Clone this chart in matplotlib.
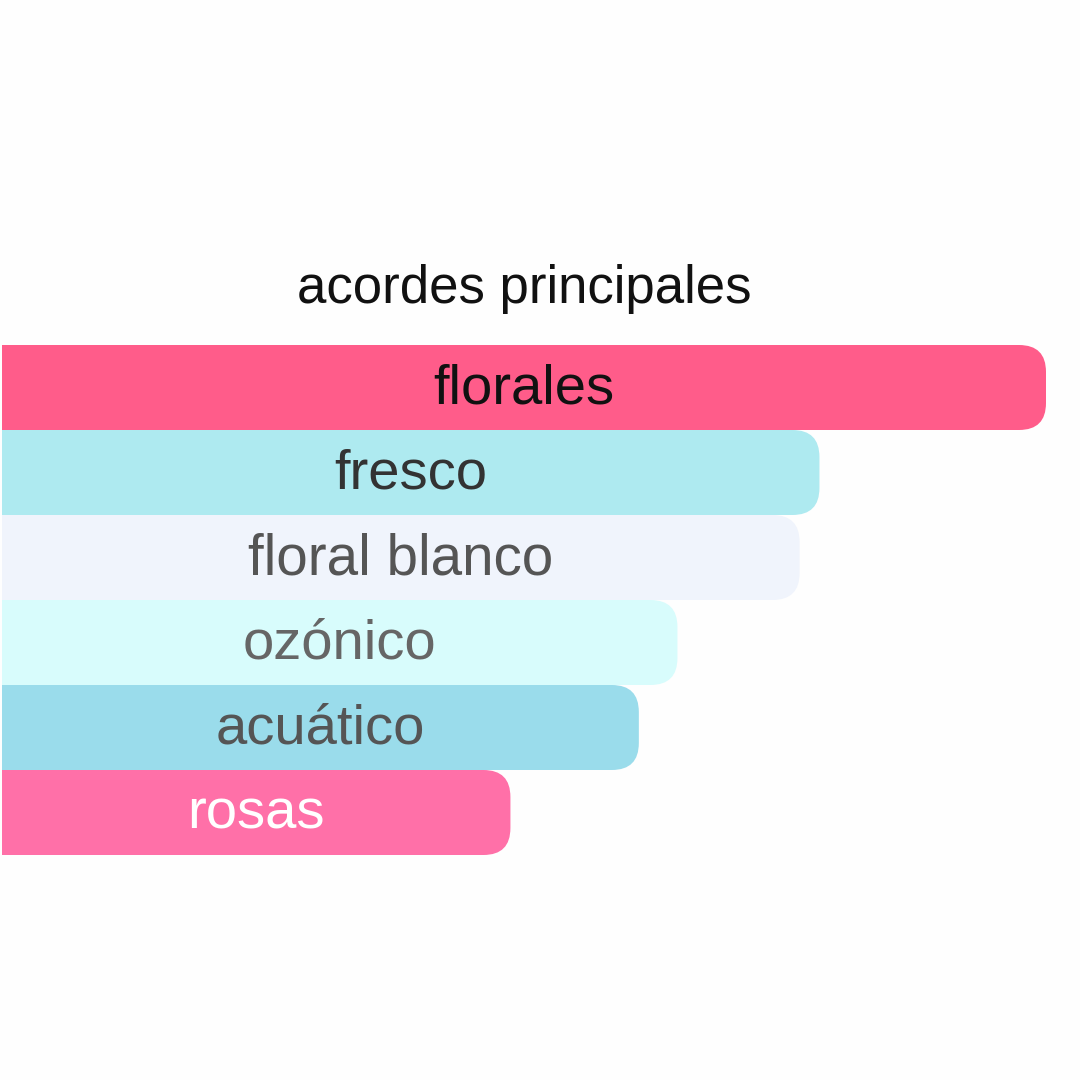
import matplotlib
matplotlib.use("Agg")
import matplotlib.pyplot as plt
from matplotlib.patches import FancyBboxPatch, Rectangle

title = "acordes principales"
categories = ["florales", "fresco", "floral blanco", "ozónico", "acuático", "rosas"]
values = [100, 78.3, 76.4, 64.7, 61.0, 48.7]
colors = ["#FF5C8A", "#AEEAF0", "#F0F4FC", "#D8FCFC", "#9ADCEB", "#FF70A8"]
text_colors = ["#111111", "#333333", "#555555", "#666666", "#555555", "#FFFFFF"]
font_sizes = [40.5, 40.5, 40.8, 40.5, 40.5, 40.5]

plt.rcParams['font.family'] = ['Liberation Sans', 'DejaVu Sans']

fig = plt.figure(figsize=(10.8, 10.8), dpi=100)
fig.patch.set_facecolor("#FEFEFE")
ax = fig.add_axes([0, 0, 1, 1])
ax.set_xlim(0, 1080)
ax.set_ylim(1080, 0)
ax.axis("off")

x0 = 2
full = 1044
bar_h = 85
top = 345
r = 27
for i, (cat, v, c, tc, fs) in enumerate(zip(categories, values, colors, text_colors, font_sizes)):
    w = full * v / 100
    y = top + i * bar_h
    ax.add_patch(FancyBboxPatch((x0, y), w, bar_h,
                                boxstyle=f"round,pad=0,rounding_size={r}",
                                fc=c, ec="none", zorder=2 + i * 0.01))
    ax.add_patch(Rectangle((x0, y), w / 2, bar_h, fc=c, ec="none", zorder=2 + i * 0.01))
    ax.text(x0 + w / 2, y + bar_h / 2 + 2, cat, ha="center", va="center",
            fontsize=fs, color=tc, zorder=5)

ax.text(x0 + full / 2, 289, title, ha="center", va="center", fontsize=38, color="#111111")

fig.savefig("out.png", dpi=100, facecolor=fig.get_facecolor())
